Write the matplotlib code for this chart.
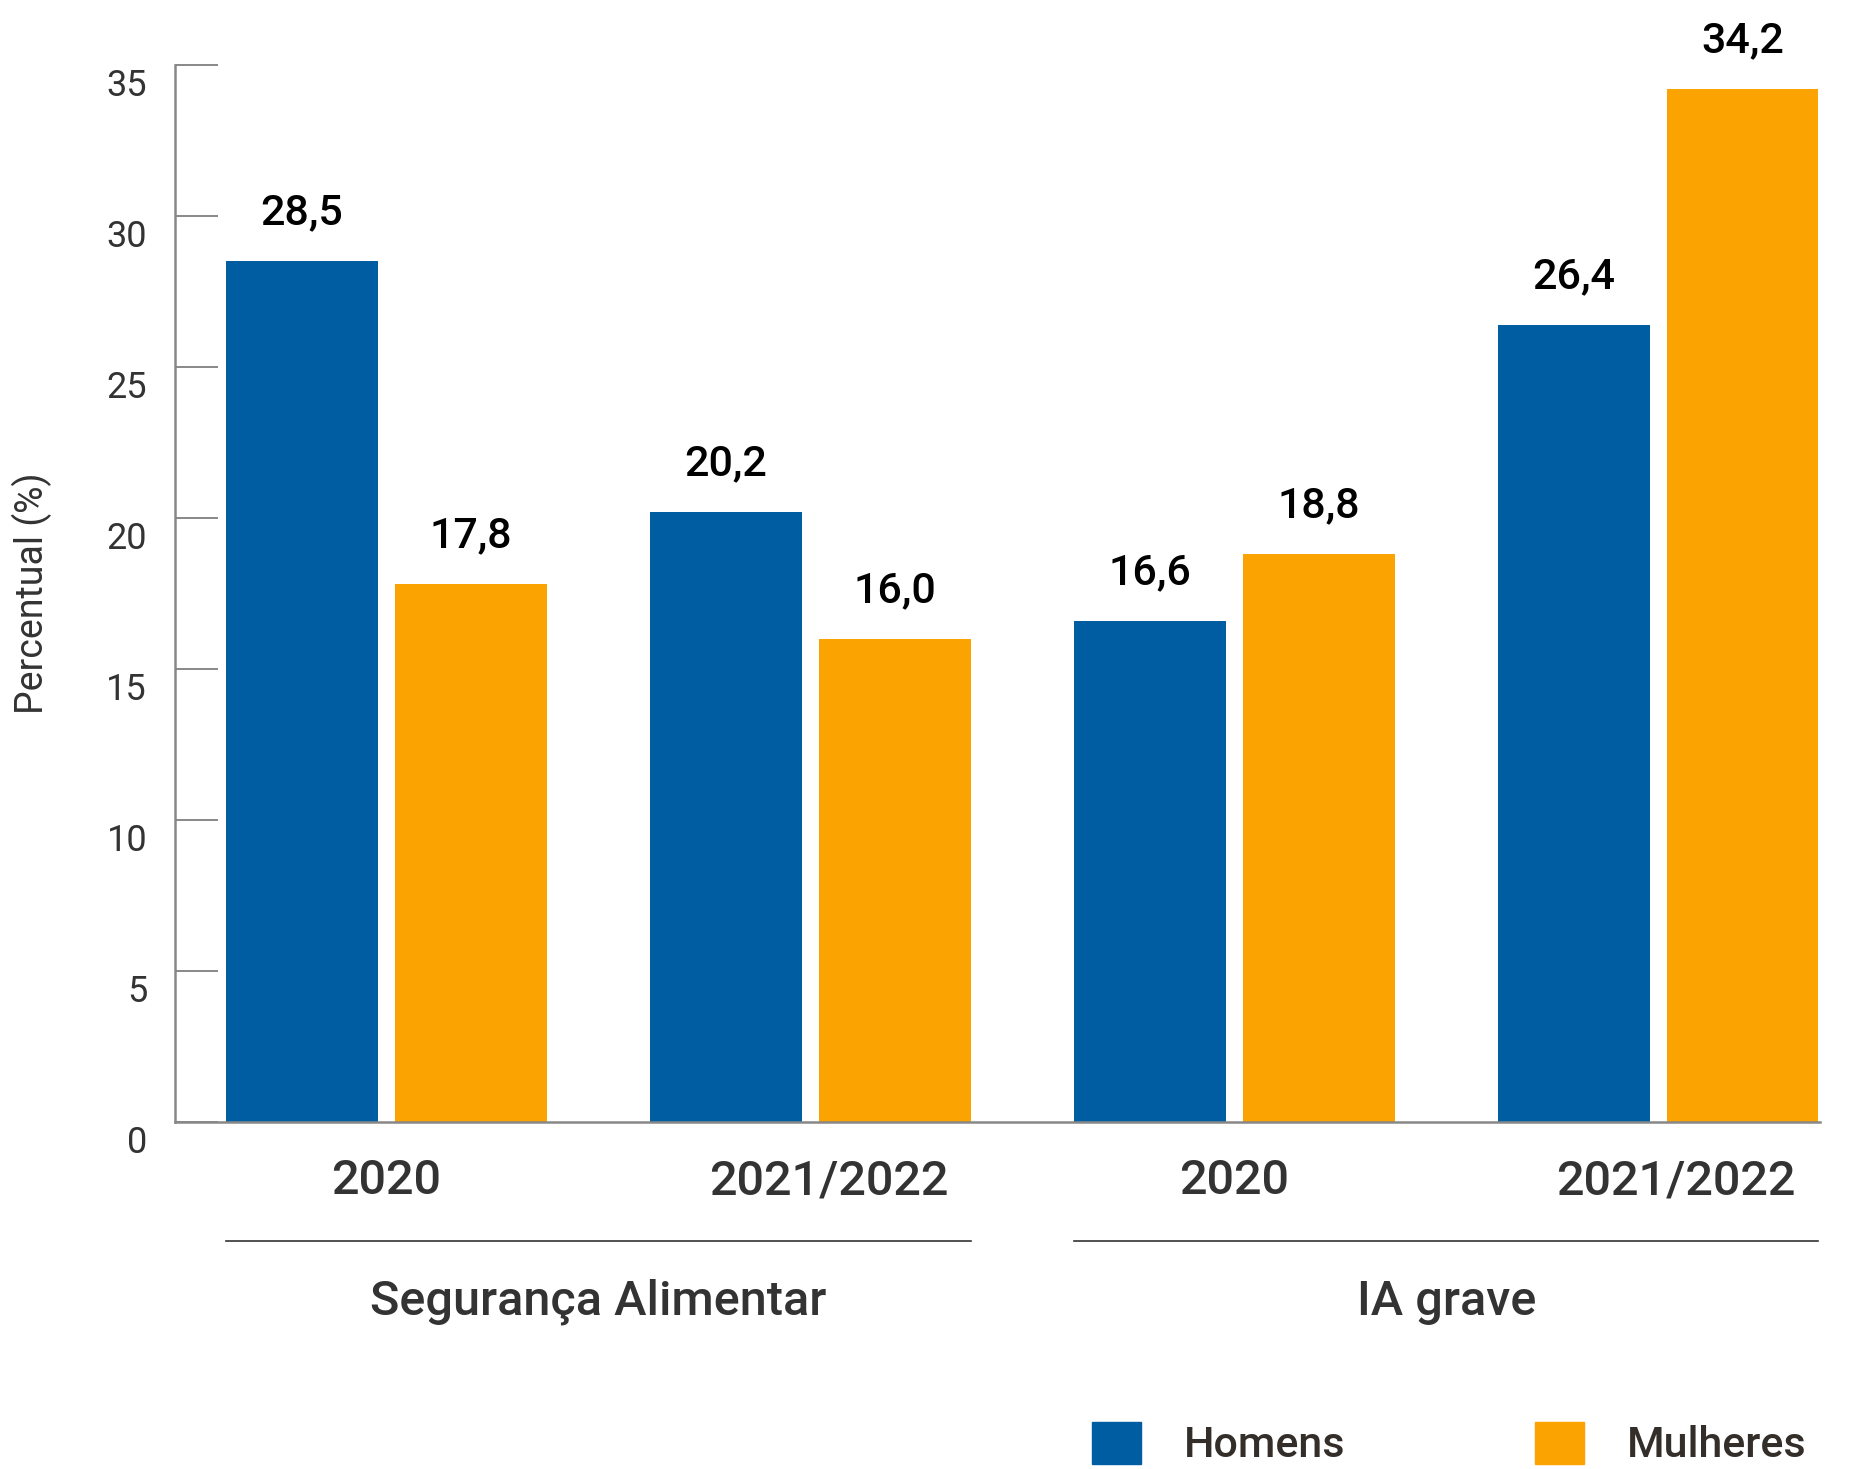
import numpy as np
import matplotlib.pyplot as plt
from matplotlib.patches import Patch
from matplotlib.transforms import ScaledTranslation

plt.rcParams['font.family'] = ['Roboto', 'DejaVu Sans']

periodos = ['2020', '2021/2022', '2020', '2021/2022']
grupos = ['Segurança Alimentar', 'IA grave']
homens = [28.5, 20.2, 16.6, 26.4]
mulheres = [17.8, 16.0, 18.8, 34.2]

azul = '#005DA2'
laranja = '#FBA300'
w = 0.3585
d = 0.199

fig = plt.figure(figsize=(18.53, 14.69), dpi=100)
ax = fig.add_axes([0.0944, 0.2362, 0.8876, 0.7196])

x = np.arange(len(periodos))
b1 = ax.bar(x - d, homens, w, color=azul, label='Homens')
b2 = ax.bar(x + d, mulheres, w, color=laranja, label='Mulheres')

for bars, vals in [(b1, homens), (b2, mulheres)]:
    for b, v in zip(bars, vals):
        ax.annotate(f'{v:.1f}'.replace('.', ','), (b.get_x() + b.get_width() / 2, v),
                    xytext=(0, 20), textcoords='offset points', ha='center', va='bottom',
                    fontsize=31, fontweight='medium', color='black')

ax.set_xlim(-0.499, 3.381)
ax.set_ylim(0, 35)
ax.set_yticks(np.arange(0, 36, 5))
ax.set_xticks(x)
ax.set_xticklabels(periodos, fontsize=35, fontweight='medium', color='#333333')
ax.tick_params(axis='x', length=0, pad=26)
ax.tick_params(axis='y', direction='in', length=31, width=1.4, color='#888888',
               labelsize=26, labelcolor='#333333', pad=20)
ax.yaxis.get_major_ticks()[-1].tick1line.set_color('black')
off = ScaledTranslation(0, -0.17, fig.dpi_scale_trans)
for lab in ax.get_yticklabels():
    lab.set_transform(lab.get_transform() + off)
# rótulos 2021/2022 um pouco deslocados para a direita
for lab in ax.get_xticklabels():
    if '/' in lab.get_text():
        lab.set_transform(lab.get_transform() + ScaledTranslation(0.18, 0, fig.dpi_scale_trans))

for s in ['top', 'right']:
    ax.spines[s].set_visible(False)
for s in ['left', 'bottom']:
    ax.spines[s].set_color('#888888')
    ax.spines[s].set_linewidth(1.8)

ax.set_ylabel('Percentual (%)', fontsize=27, color='#333333')
ax.yaxis.set_label_coords(-0.0745, 0.5)

# linhas e nomes dos grupos
trans = ax.get_xaxis_transform()
for i, g in enumerate(grupos):
    x0 = x[2 * i] - d - w / 2
    x1 = x[2 * i + 1] + d + w / 2
    ax.plot([x0, x1], [-0.1126, -0.1126], color='#333333', lw=1.2,
            transform=trans, clip_on=False)
    ax.text((x0 + x1) / 2, -0.1698, g, transform=trans, ha='center', va='center',
            fontsize=35, fontweight='medium', color='#333333')

handles = [Patch(color=azul, label='Homens'), Patch(color=laranja, label='Mulheres')]
fig.legend(handles=handles, loc='center left', bbox_to_anchor=(1092 / 1853, 0.017),
           ncol=2, frameon=False, prop={'size': 31, 'weight': 'medium'},
           handlelength=1.14, handleheight=1.14, handletextpad=1.0, columnspacing=4.4,
           borderpad=0, borderaxespad=0, labelcolor='#332e29')

plt.savefig('out.png', dpi=100)
